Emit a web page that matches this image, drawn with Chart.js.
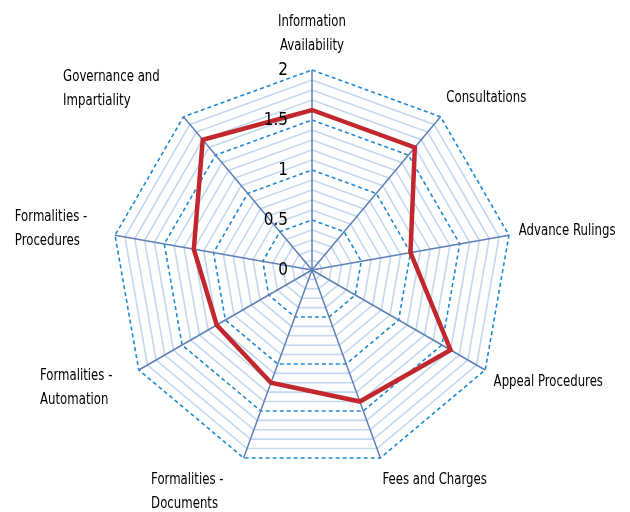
<!DOCTYPE html>
<html>
<head>
<meta charset="utf-8">
<script src="https://cdn.jsdelivr.net/npm/chart.js@4"></script>
<style>
  body { margin: 0; background: #fff; }
  #wrap { width: 630px; height: 512px; }
</style>
</head>
<body>
<div id="wrap"><canvas id="myChart"></canvas></div>
<script>
var categories = [
	['Information', 'Availability'],
	['Consultations'],
	['Advance Rulings'],
	['Appeal Procedures'],
	['Fees and Charges'],
	['Formalities -', 'Documents'],
	['Formalities -', 'Automation'],
	['Formalities -', 'Procedures'],
	['Governance and', 'Impartiality']
];
var scores = [1.6, 1.6, 1.0, 1.6, 1.4, 1.2, 1.1, 1.2, 1.7];
var tickLabels = [0, 0.5, 1, 1.5, 2];

var FONT = "'Liberation Sans Narrow', 'DejaVu Sans Condensed', sans-serif";
var LINE_H = 24;
var SQUEEZE = 0.87; // narrow the text a bit, the original uses a condensed face

function isMajor(v) {
	return Math.round(v * 10) % 5 === 0;
}

function drawText(ctx, t, x, y, sx) {
	ctx.save();
	ctx.translate(x, y);
	ctx.scale(sx, 1);
	ctx.fillText(t, 0, 0);
	ctx.restore();
}

// draw the category labels and the value labels ourselves so the
// lines of a label stay left aligned, as in the original
var labelPlugin = {
	id: 'labels',
	afterDraw: function(chart) {
		var scale = chart.scales.r;
		var ctx = chart.ctx;
		ctx.save();
		ctx.fillStyle = '#000';
		ctx.textBaseline = 'middle';

		ctx.font = '15px ' + FONT;
		categories.forEach(function(lines, i) {
			var p = scale.getPointPosition(i, scale.drawingArea + 12);
			var a = p.angle + Math.PI / 2; // 0 at top, clockwise
			var s = Math.sin(a), c = Math.cos(a);
			var w = 0;
			lines.forEach(function(t) { w = Math.max(w, ctx.measureText(t).width * SQUEEZE); });
			var h = lines.length * LINE_H;
			var cy = p.y - c * h / 2;
			var left;
			if (Math.abs(s) < 0.05) {
				ctx.textAlign = 'center';
				left = p.x;
			} else {
				ctx.textAlign = 'left';
				left = s > 0 ? p.x - 2 : p.x - w - 16;
			}
			lines.forEach(function(t, k) {
				drawText(ctx, t, left, cy - h / 2 + LINE_H * (k + 0.5), SQUEEZE);
			});
		});

		ctx.font = '17px ' + FONT;
		ctx.textAlign = 'right';
		tickLabels.forEach(function(v) {
			var d = scale.getDistanceFromCenterForValue(v);
			drawText(ctx, String(v), scale.xCenter - 24, scale.yCenter - d + 1, 1);
		});
		ctx.restore();
	}
};

var ctx = document.getElementById('myChart');
var myChart = new Chart(ctx, {
	type: 'radar',
	data: {
		labels: categories,
		datasets: [{
			label: 'Score',
			data: scores,
			borderColor: '#c1272d',
			borderWidth: 4.5,
			fill: false,
			pointRadius: 0,
			pointHoverRadius: 0
		}]
	},
	options: {
		responsive: true,
		maintainAspectRatio: false,
		animation: false,
		layout: { padding: { top: 70, bottom: 42, left: 112, right: 118 } },
		plugins: {
			legend: { display: false },
			tooltip: { enabled: false }
		},
		scales: {
			r: {
				min: 0,
				max: 2,
				ticks: { stepSize: 0.1, display: false },
				grid: {
					color: function(c) {
						return isMajor(c.tick.value) ? '#1e8ad2' : '#c3d8ee';
					},
					lineWidth: 1.6
				},
				border: {
					dash: function(c) {
						return isMajor(c.tick.value) ? [4, 3] : [];
					}
				},
				angleLines: { color: '#5f7fb8', lineWidth: 1.5 },
				pointLabels: { display: false }
			}
		}
	},
	plugins: [labelPlugin]
});
</script>
</body>
</html>
